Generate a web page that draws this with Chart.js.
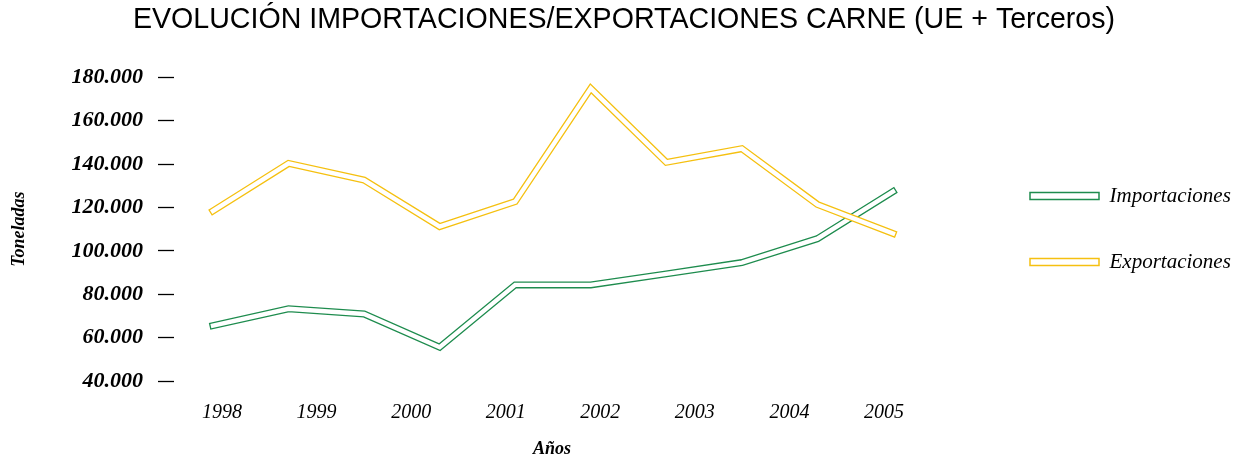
<!DOCTYPE html>
<html lang="es">
<head>
  <meta charset="UTF-8" />
  <title>Evolución importaciones/exportaciones carne</title>
  <script src="https://cdn.jsdelivr.net/npm/chart.js@4.4.1/dist/chart.umd.min.js"></script>
  <style>
    * { box-sizing: border-box; }
    html, body { margin: 0; padding: 0; background: #fff; overflow: hidden; }
    canvas { display: block; }
  </style>
</head>
<body>
  <canvas id="chart" width="1248" height="458"></canvas>

  <script>
    // values (toneladas), ten points per series
    const importaciones = [65500, 73300, 70900, 55600, 84300, 84300, 89400, 94600, 105600, 127300];
    const exportaciones = [118400, 140300, 132600, 111200, 122700, 174900, 140800, 147100, 121400, 108000];
    const years = ['1998', '1999', '2000', '2001', '2002', '2003', '2004', '2005'];
    const yTicks = [40000, 60000, 80000, 100000, 120000, 140000, 160000, 180000];

    const GREEN = '#1e8c4e';
    const YELLOW = '#f5c010';

    const pts = (arr) => arr.map((v, i) => ({ x: i, y: v }));
    const fmt = (v) => v.toLocaleString('de-DE');

    // each series drawn as a thick coloured line with a white core (hollow line);
    // square caps on both leave a thin closing edge at the ends
    function hollow(label, values, color) {
      return [
        { label: label, data: pts(values), borderColor: '#fff', borderWidth: 4.4, borderCapStyle: 'square', pointRadius: 0, fill: false, tension: 0, borderJoinStyle: 'miter' },
        { label: label, data: pts(values), borderColor: color, borderWidth: 7, borderCapStyle: 'square', pointRadius: 0, fill: false, tension: 0, borderJoinStyle: 'miter' }
      ];
    }

    const datasets = [
      ...hollow('Exportaciones', exportaciones, YELLOW),
      ...hollow('Importaciones', importaciones, GREEN)
    ];

    // the side legend is capped at a share of the width; let it keep its full width
    const wideLegend = {
      id: 'wideLegend',
      beforeUpdate(chart) {
        const lg = chart.legend;
        if (lg && !lg._wide) {
          const fit = lg.fit.bind(lg);
          lg.fit = function () { fit(); this.width = 263; };
          lg._wide = true;
        }
      }
    };

    new Chart(document.getElementById('chart'), {
      type: 'line',
      data: { datasets },
      plugins: [wideLegend],
      options: {
        responsive: false,
        animation: false,
        devicePixelRatio: 1,
        layout: { padding: 0 },
        plugins: {
          tooltip: { enabled: false },
          title: {
            display: true,
            text: 'EVOLUCIÓN IMPORTACIONES/EXPORTACIONES CARNE (UE + Terceros)',
            color: '#000',
            font: { family: 'Liberation Sans', size: 28.6, weight: 'normal', lineHeight: 1.2 },
            padding: { top: 3, bottom: 40 }
          },
          legend: {
            position: 'right',
            labels: {
              color: '#000',
              font: { family: 'Liberation Serif', size: 21, style: 'italic' },
              boxWidth: 69,
              boxHeight: 7,
              padding: 45,
              generateLabels: () => [
                { text: 'Importaciones', fillStyle: '#fff', strokeStyle: GREEN, lineWidth: 1.5 },
                { text: 'Exportaciones', fillStyle: '#fff', strokeStyle: YELLOW, lineWidth: 1.5 }
              ]
            }
          }
        },
        scales: {
          x: {
            type: 'linear',
            min: -0.516,
            max: 9.49,
            grid: { display: false, drawTicks: false },
            border: { display: false },
            afterBuildTicks: (axis) => {
              axis.ticks = years.map((y, i) => ({ value: 0.12 + i * 1.2516 }));
            },
            ticks: {
              color: '#000',
              padding: 20,
              maxRotation: 0,
              autoSkip: false,
              font: { family: 'Liberation Serif', size: 20, style: 'italic' },
              callback: (v, i) => years[i]
            },
            title: {
              display: true,
              text: 'Años',
              color: '#000',
              font: { family: 'Liberation Serif', size: 18, style: 'italic', weight: 'bold', lineHeight: 1 },
              padding: { top: -5, bottom: 0 }
            }
          },
          y: {
            min: 40000,
            max: 180000,
            afterBuildTicks: (axis) => {
              axis.ticks = yTicks.map((v) => ({ value: v }));
            },
            afterFit: (axis) => { axis.width = 174; },
            grid: { drawOnChartArea: false, drawTicks: true, tickLength: 16, color: '#000', tickWidth: 1.3 },
            border: { display: false },
            ticks: {
              color: '#000',
              padding: 15,
              font: { family: 'Liberation Serif', size: 22, style: 'italic', weight: 'bold' },
              callback: (v) => fmt(v)
            },
            title: {
              display: true,
              text: 'Toneladas',
              color: '#000',
              font: { family: 'Liberation Serif', size: 18, style: 'italic', weight: 'bold', lineHeight: 1 },
              padding: { top: 10, bottom: 0 }
            }
          },
          // empty spacer so the plot ends where the legend gap starts
          spacer: {
            position: 'right',
            display: true,
            grid: { display: false },
            border: { display: false },
            ticks: { display: false },
            afterFit: (axis) => { axis.width = 55; }
          }
        }
      }
    });
  </script>
</body>
</html>
